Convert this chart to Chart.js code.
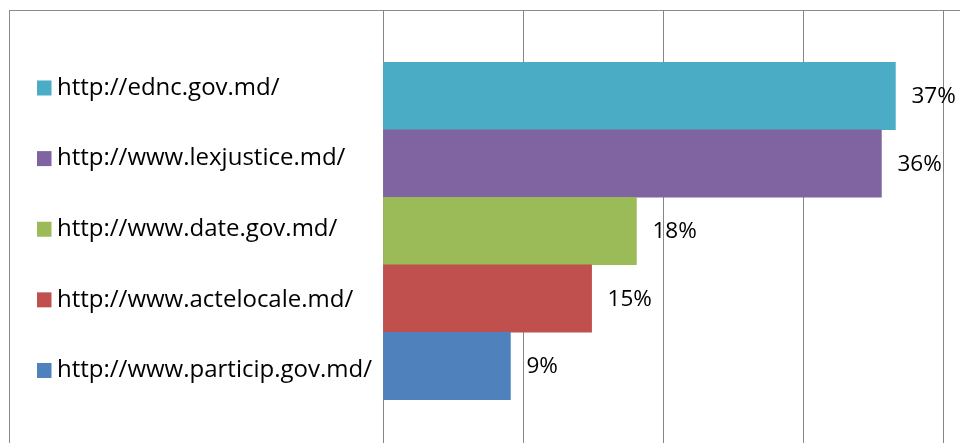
<!DOCTYPE html>
<html>
<head>
<meta charset="utf-8">
<script src="https://cdn.jsdelivr.net/npm/chart.js@4"></script>
<style>
  html, body { margin: 0; padding: 0; background: #fff; overflow: hidden; }
  #frame { position: absolute; left: 9px; top: 10px; width: 1000px; height: 500px; border: 1px solid #8a8a8a; }
  #wrap { position: absolute; left: 0; top: 0; width: 960px; height: 443px; }
</style>
</head>
<body>
<div id="frame"></div>
<div id="wrap"><canvas id="myChart"></canvas></div>
<script>
const sites = ['http://ednc.gov.md/', 'http://www.lexjustice.md/', 'http://www.date.gov.md/', 'http://www.actelocale.md/', 'http://www.particip.gov.md/'];
const shares = [36.6, 35.6, 18.1, 14.9, 9.1];
const shareLabels = ['37%', '36%', '18%', '15%', '9%'];
const colors = ['#4BACC6', '#8064A2', '#9BBB59', '#C0504D', '#4F81BD'];
const xTicks = [0, 10, 20, 30, 40];

const gridGray = '#868686';
const fontFam = '"Open Sans", sans-serif';

// one tick per site, used by both y scales
const siteTicks = (scale) => {
    scale.ticks = sites.map((s, i) => ({ value: i }));
};
// stop the label axis from shrinking the plot
const noPad = (scale) => {
    scale.paddingTop = 0;
    scale.paddingBottom = 0;
};

// value labels right of each bar
const valueLabels = {
    id: 'valueLabels',
    afterDatasetsDraw(chart) {
        const ctx = chart.ctx;
        const meta = chart.getDatasetMeta(0);
        ctx.save();
        ctx.font = '22.5px ' + fontFam;
        ctx.fillStyle = '#000';
        ctx.textAlign = 'left';
        ctx.textBaseline = 'middle';
        meta.data.forEach((bar, i) => {
            ctx.fillText(shareLabels[i], bar.x + 16, bar.y + 1);
        });
        ctx.restore();
    }
};

// colored squares before the site names
const legendSquares = {
    id: 'legendSquares',
    afterDraw(chart) {
        const ctx = chart.ctx;
        const scale = chart.scales.names;
        ctx.save();
        scale.ticks.forEach((t, i) => {
            const y = scale.getPixelForTick(i);
            ctx.fillStyle = colors[i];
            ctx.fillRect(37, y - 7.5, 14.5, 15);
        });
        ctx.restore();
    }
};

new Chart(document.getElementById('myChart').getContext('2d'), {
    type: 'bar',
    data: {
        datasets: [{
            data: shares.map((v, i) => ({ x: v, y: i })),
            backgroundColor: colors,
            borderWidth: 0,
            barPercentage: 1,
            categoryPercentage: 1,
            yAxisID: 'y'
        }]
    },
    options: {
        indexAxis: 'y',
        responsive: true,
        maintainAspectRatio: false,
        animation: false,
        layout: { padding: { left: 57, top: 11, right: 17, bottom: 0 } },
        plugins: {
            legend: { display: false },
            tooltip: { enabled: false }
        },
        scales: {
            x: {
                type: 'linear',
                min: xTicks[0],
                max: xTicks[xTicks.length - 1],
                afterBuildTicks: (scale) => { scale.ticks = xTicks.map(v => ({ value: v })); },
                ticks: { display: false },
                grid: { color: gridGray, lineWidth: 1, drawTicks: false },
                border: { display: false }
            },
            y: {
                type: 'linear',
                display: false,
                reverse: true,
                offset: false,
                bounds: 'data',
                min: -1.259,
                max: 5.141,
                afterBuildTicks: siteTicks
            },
            names: {
                type: 'linear',
                position: 'left',
                reverse: true,
                offset: false,
                bounds: 'data',
                min: -1.09,
                max: 5.027,
                afterBuildTicks: siteTicks,
                afterFit: (scale) => { scale.width = 326; noPad(scale); },
                ticks: {
                    crossAlign: 'far',
                    color: '#000',
                    font: { family: fontFam, size: 24 },
                    callback: (v) => sites[v]
                },
                grid: { display: false },
                border: { display: true, color: gridGray, width: 1 }
            }
        }
    },
    plugins: [valueLabels, legendSquares]
});
</script>
</body>
</html>
